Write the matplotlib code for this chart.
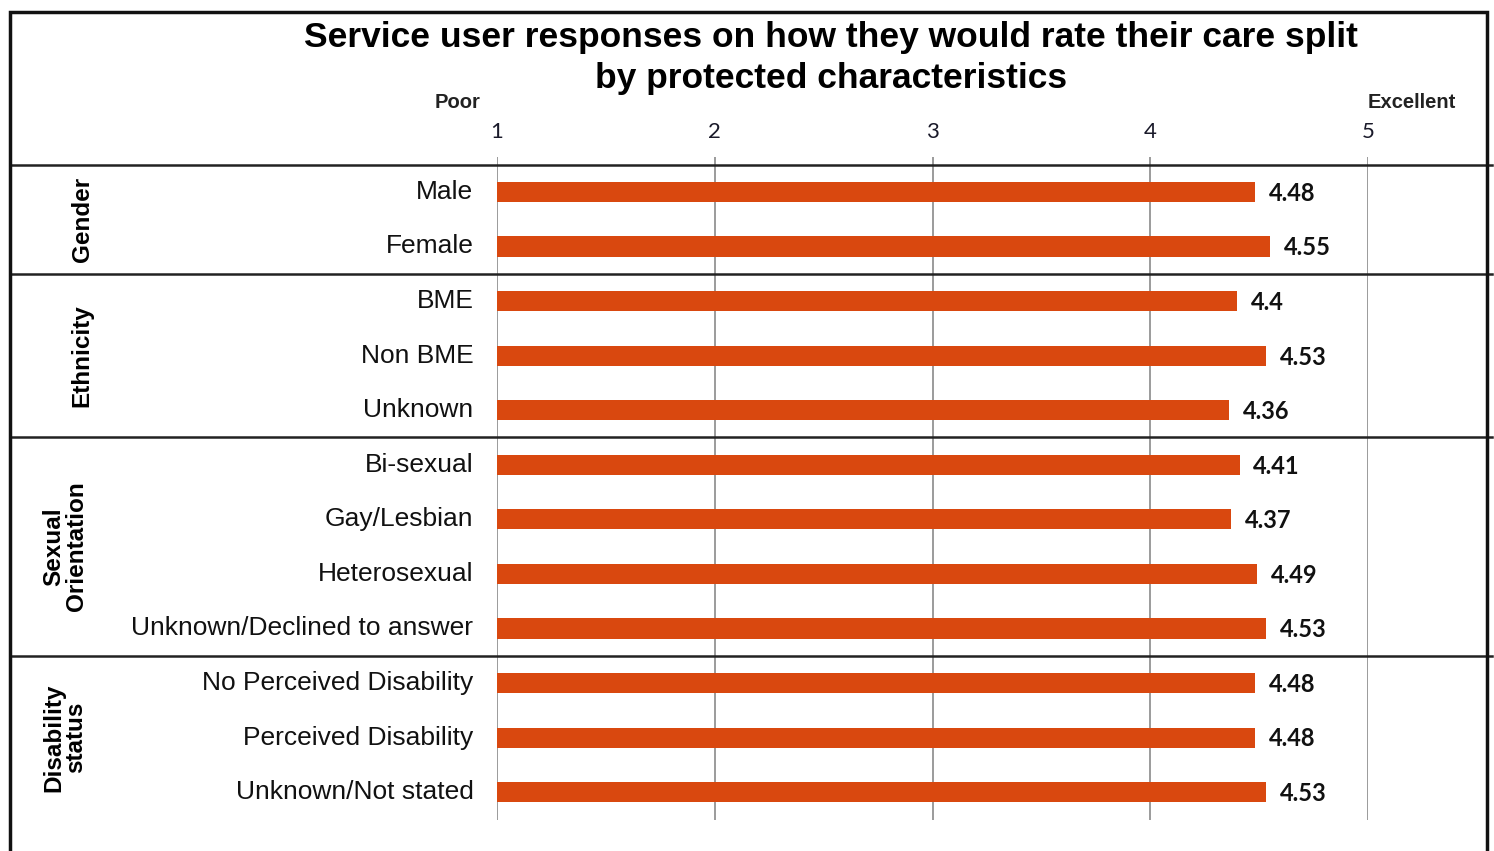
import matplotlib.pyplot as plt
from matplotlib.lines import Line2D
from matplotlib.patches import Rectangle
import matplotlib.transforms as mtransforms
import numpy as np

# ratings (1 = Poor, 5 = Excellent)
categories = ["Male", "Female",
              "BME", "Non BME", "Unknown",
              "Bi-sexual", "Gay/Lesbian", "Heterosexual", "Unknown/Declined to answer",
              "No Perceived Disability", "Perceived Disability", "Unknown/Not stated"]
scores = [4.48, 4.55,
          4.4, 4.53, 4.36,
          4.41, 4.37, 4.49, 4.53,
          4.48, 4.48, 4.53]
groups = ["Gender", "Ethnicity", "Sexual\nOrientation", "Disability\nstatus"]
group_sizes = [2, 3, 4, 3]
scale_ticks = [1, 2, 3, 4, 5]

W, H = 1494, 851
fig = plt.figure(figsize=(W / 100, H / 100), dpi=100)
ax = fig.add_axes([497 / W, 1 - 820 / H, (1368 - 497) / W, (820 - 157) / H])

bar_col = "#D9480F"
y = np.arange(len(categories))
ax.barh(y, np.array(scores) - 1, left=1, height=0.37, color=bar_col, zorder=3)

ax.set_xlim(1, 5)
ax.set_ylim(11.51, -0.64)
for s in ax.spines.values():
    s.set_visible(False)
ax.set_xticks(scale_ticks)
ax.xaxis.tick_top()
ax.tick_params(axis="x", length=0, pad=11, labelsize=16, labelcolor="#1a1a2a")
for lbl in ax.get_xticklabels():
    lbl.set_fontfamily("Lato")
ax.set_yticks([])
for t in scale_ticks:
    ax.axvline(t, color="#8a8a8a", lw=1.2, zorder=1)

# category labels and values
for yi, (c, v) in enumerate(zip(categories, scores)):
    ax.annotate(c, xy=(1, yi), xytext=(-17, 0), textcoords="offset points",
                ha="right", va="center", fontsize=19, family="Liberation Sans",
                color="#111111")
    ax.annotate(f"{v:g}", xy=(v, yi), xytext=(10, -1), textcoords="offset points",
                ha="left", va="center", fontsize=17, family="Lato",
                fontweight="bold", color="#111111")

# group separators spanning the whole frame
blend = mtransforms.blended_transform_factory(fig.transFigure, ax.transData)
bounds = np.cumsum([0] + group_sizes) - 0.5
for b in bounds[:-1]:
    ax.add_line(Line2D([10 / W, 1492 / W], [b, b], transform=blend,
                       color="#222222", lw=1.8, clip_on=False, zorder=4))

# group labels
group_x = [82, 82, 65, 65]
for g, lo, hi, gx in zip(groups, bounds[:-1], bounds[1:], group_x):
    ax.text(gx / W, (lo + hi) / 2, g, transform=blend, rotation=90,
            ha="center", va="center", fontsize=17.5, fontweight="bold",
            family="Liberation Sans", linespacing=0.95, multialignment="center")

# outer frame
fig.add_artist(Rectangle((10 / W, -0.01), (1487 - 10) / W, 1 - 12 / H + 0.01,
                         transform=fig.transFigure, fill=False,
                         edgecolor="#111111", lw=2.5))

fig.text(831 / W, 1 - 58 / H,
         "Service user responses on how they would rate their care split\nby protected characteristics",
         ha="center", va="center", fontsize=25.5, fontweight="bold",
         family="Liberation Sans", linespacing=1.3)
fig.text(480 / W, 1 - 102 / H, "Poor", ha="right", va="center",
         fontsize=14.5, fontweight="bold", family="Liberation Sans", color="#222222")
fig.text(1368 / W, 1 - 102 / H, "Excellent", ha="left", va="center",
         fontsize=14.5, fontweight="bold", family="Liberation Sans", color="#222222")

fig.savefig("out.png", dpi=100)
